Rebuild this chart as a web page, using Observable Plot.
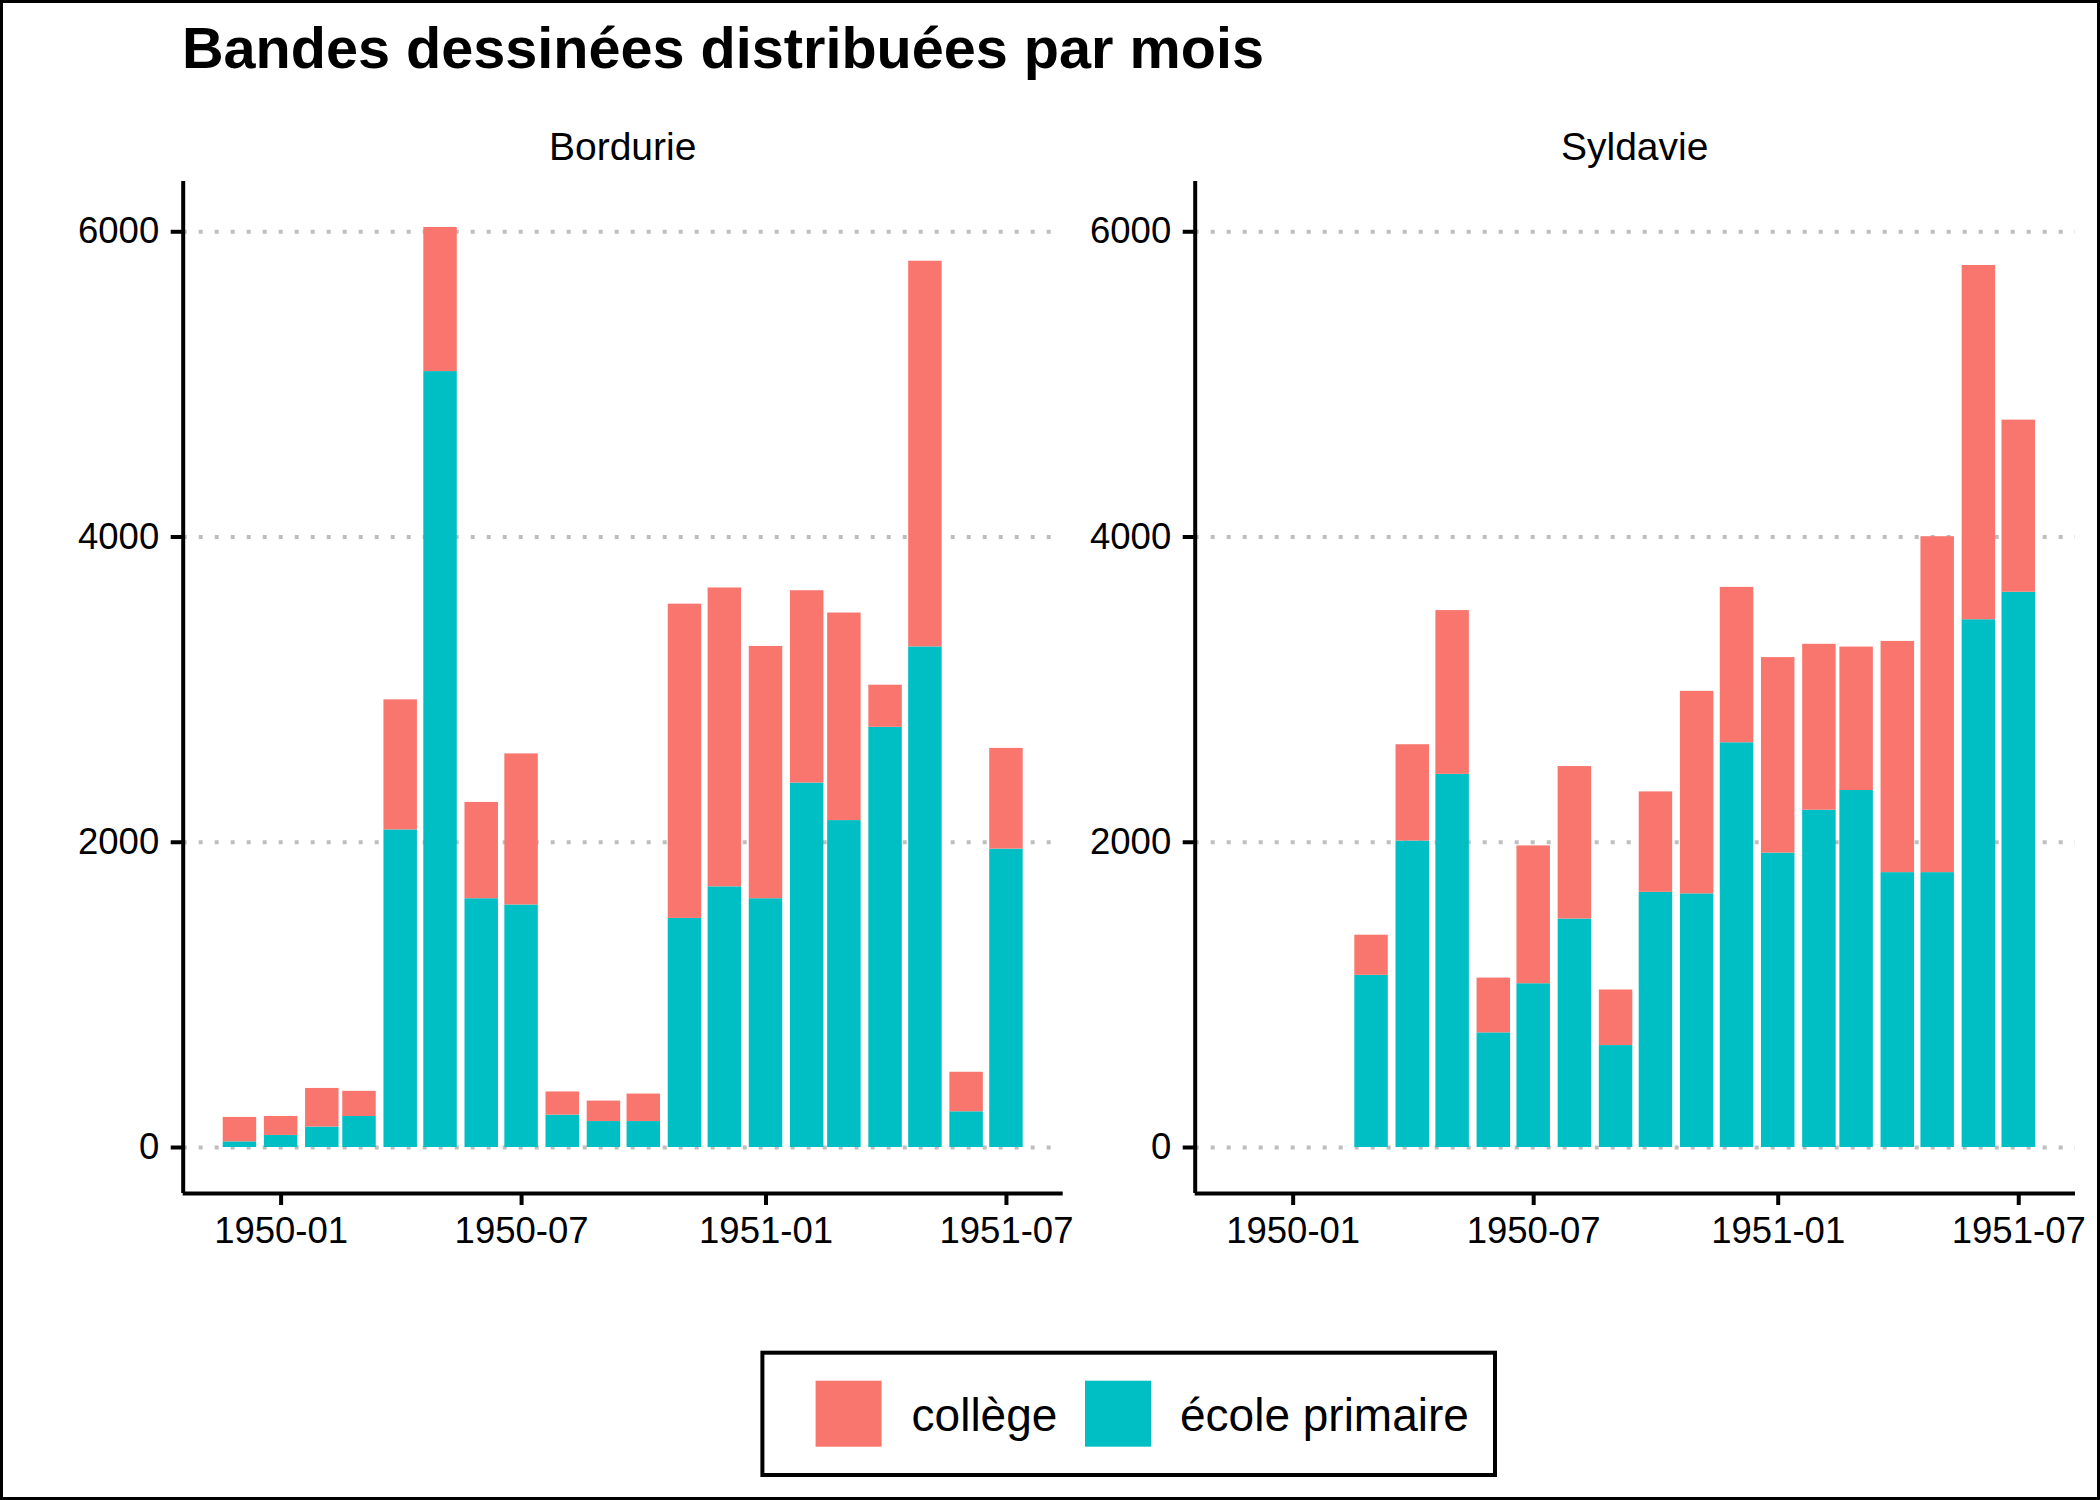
<!DOCTYPE html>
<html><head><meta charset="utf-8">
<script src="https://cdn.jsdelivr.net/npm/d3@7"></script>
<script src="https://cdn.jsdelivr.net/npm/@observablehq/plot@0.6"></script>
<style>
body{margin:0;background:#fff}
#root{position:relative;width:2100px;height:1500px;overflow:hidden;background:#fff;font-family:"Liberation Sans",Arial,sans-serif}
#cadre{position:absolute;left:0;top:0;width:2100px;height:1500px;box-sizing:border-box;border:3px solid #000;pointer-events:none}
.panel{position:absolute;top:100px}
</style></head>
<body><div id="root"></div>
<script>
// ---- Données ----
const titre = "Bandes dessinées distribuées par mois";
const pays = ["Bordurie", "Syldavie"];
const niveaux = ["collège", "école primaire"];
const couleurs = ["#F8766D", "#00BFC4"];

const moisBordurie = ["1949-12","1950-01","1950-02","1950-03","1950-04","1950-05","1950-06","1950-07","1950-08","1950-09","1950-10","1950-11","1950-12","1951-01","1951-02","1951-03","1951-04","1951-05","1951-06","1951-07"];
const bordurieEcole   = [37, 79, 134, 203, 2081, 5084, 1630, 1589, 212, 170, 170, 1501, 1708, 1630, 2388, 2142, 2753, 3280, 234, 1955];
const bordurieCollege = [160, 124, 253, 165, 852, 944, 631, 990, 152, 134, 180, 2059, 1958, 1653, 1260, 1360, 276, 2527, 259, 660];

const moisSyldavie = ["1950-03","1950-04","1950-05","1950-06","1950-07","1950-08","1950-09","1950-10","1950-11","1950-12","1951-01","1951-02","1951-03","1951-04","1951-05","1951-06","1951-07"];
const syldavieEcole   = [1128, 2008, 2445, 751, 1073, 1497, 668, 1672, 1662, 2652, 1929, 2210, 2339, 1801, 1801, 3458, 3638];
const syldavieCollege = [263, 631, 1073, 359, 903, 999, 364, 658, 1327, 1018, 1281, 1087, 940, 1515, 2201, 2321, 1128];

const yTicks = [0, 2000, 4000, 6000];
const xTicks = ["1950-01", "1950-07", "1951-01", "1951-07"];

// ---- Construction ----
const parse = d3.utcParse("%Y-%m");
const fmt = d3.utcFormat("%Y-%m");
const jour = 864e5;
const demiLargeur = 0.45 * 28 * jour; // largeur 0.9 * résolution (28 jours)

function table(mois, ecole, college) {
  const rows = [];
  mois.forEach((m, i) => {
    const date = parse(m);
    rows.push({date, niveau: "école primaire", valeur: ecole[i]});
    rows.push({date, niveau: "collège", valeur: college[i]});
  });
  return rows;
}
const donnees = [
  table(moisBordurie, bordurieEcole, bordurieCollege),
  table(moisSyldavie, syldavieEcole, syldavieCollege)
];

// domaines partagés (expansion 5 %)
const tous = donnees.flat();
const tMin = d3.min(tous, d => +d.date) - demiLargeur;
const tMax = d3.max(tous, d => +d.date) + demiLargeur;
const tPad = 0.05 * (tMax - tMin);
const xDomain = [new Date(tMin - tPad), new Date(tMax + tPad)];
const yMaxData = d3.max(donnees, rows => d3.max(d3.rollups(rows, v => d3.sum(v, d => d.valeur), d => +d.date), d => d[1]));
const yDomain = [-0.05 * yMaxData, 1.05 * yMaxData];

const root = document.getElementById("root");

const panels = [
  {left: 0, width: 1080, marginLeft: 182.7, marginRight: 1080 - 182.7 - 880},
  {left: 1080, width: 1020, marginLeft: 114.7, marginRight: 1020 - 114.7 - 880.3}
];

panels.forEach((p, k) => {
  const plot = Plot.plot({
    width: p.width,
    height: 1200,
    marginTop: 81,
    marginBottom: 107,
    marginLeft: p.marginLeft,
    marginRight: p.marginRight,
    style: {fontFamily: '"Liberation Sans", Arial, sans-serif', fontSize: "36.5px", color: "#000", background: "transparent", overflow: "visible", maxWidth: "none"},
    x: {type: "utc", domain: xDomain, label: null},
    y: {domain: yDomain, label: null},
    color: {domain: niveaux, range: couleurs},
    marks: [
      Plot.gridY(yTicks, {stroke: "#bebebe", strokeOpacity: 1, strokeWidth: 4, strokeDasharray: "4,12"}),
      Plot.rectY(donnees[k], {
        x1: d => +d.date - demiLargeur,
        x2: d => +d.date + demiLargeur,
        y: "valeur",
        fill: "niveau"
      }),
      Plot.axisY(yTicks, {tickSize: 12, tickPadding: 12, strokeWidth: 4, stroke: "#000", fill: "#000", fontSize: 36.5, tickFormat: d => String(d), label: null}),
      Plot.axisX(xTicks.map(parse), {tickSize: 12, tickPadding: 12, strokeWidth: 4, stroke: "#000", fill: "#000", fontSize: 36.5, tickFormat: fmt, label: null}),
      Plot.ruleX([xDomain[0]], {stroke: "#000", strokeWidth: 4}),
      Plot.ruleY([yDomain[0]], {stroke: "#000", strokeWidth: 4})
    ]
  });
  plot.classList.add("panel");
  plot.style.left = p.left + "px";
  root.appendChild(plot);
});

// ---- Titre, étiquettes de facettes, légende ----
const svg = d3.create("svg")
  .attr("width", 2100).attr("height", 1500)
  .style("position", "absolute").style("left", "0px").style("top", "0px")
  .style("font-family", '"Liberation Sans", Arial, sans-serif');

svg.append("text").attr("x", 182).attr("y", 68)
  .attr("font-size", 57.6).attr("font-weight", "bold").attr("fill", "#000")
  .text(titre);

const centres = [182.7 + 440, 1080 + 114.7 + 440];
pays.forEach((nom, k) => {
  svg.append("text").attr("x", centres[k]).attr("y", 160)
    .attr("font-size", 39).attr("text-anchor", "middle").attr("fill", "#000")
    .text(nom);
});

svg.append("rect").attr("x", 762.4).attr("y", 1352.7).attr("width", 732.6).attr("height", 122.3)
  .attr("fill", "none").attr("stroke", "#000").attr("stroke-width", 4);
const cles = [{x: 815.6, tx: 911.6}, {x: 1085, tx: 1180}];
niveaux.forEach((n, i) => {
  svg.append("rect").attr("x", cles[i].x).attr("y", 1380.7).attr("width", 66).attr("height", 66).attr("fill", couleurs[i]);
  svg.append("text").attr("x", cles[i].tx).attr("y", 1431).attr("font-size", 46).attr("fill", "#000").text(n);
});

root.appendChild(svg.node());
const cadre = document.createElement("div");
cadre.id = "cadre";
root.appendChild(cadre);
</script>
</body></html>
